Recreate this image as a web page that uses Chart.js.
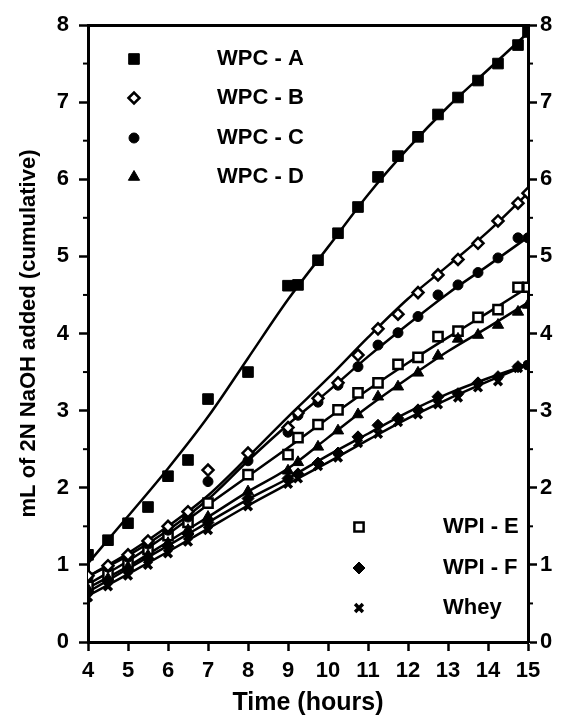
<!DOCTYPE html>
<html lang="en">
<head>
<meta charset="UTF-8">
<title>Cumulative NaOH addition</title>
<script src="https://cdn.jsdelivr.net/npm/chart.js"></script>
<style>
  html, body { margin: 0; padding: 0; background: #fff; }
</style>
</head>
<body>
<canvas id="naohChart" width="562" height="720"></canvas>
<script>
// sampling times (hours)
const hours = [4, 4.5, 5, 5.5, 6, 6.5, 7, 8, 9, 9.25, 9.75, 10.25, 10.75, 11.25, 11.75, 12.25, 12.75, 13.25, 13.75, 14.25, 14.75, 15];

// mL of 2N NaOH added, cumulative
const wpcA = [1.13, 1.32, 1.54, 1.75, 2.15, 2.36, 3.15, 3.50, 4.62, 4.63, 4.95, 5.30, 5.64, 6.03, 6.30, 6.55, 6.84, 7.06, 7.28, 7.50, 7.74, 7.91];
const wpcB = [0.86, 0.99, 1.13, 1.31, 1.50, 1.69, 2.23, 2.45, 2.78, 2.97, 3.16, 3.36, 3.72, 4.06, 4.25, 4.53, 4.76, 4.96, 5.17, 5.46, 5.69, 5.82];
const wpcC = [0.83, 0.97, 1.10, 1.27, 1.45, 1.62, 2.08, 2.35, 2.72, 2.94, 3.11, 3.33, 3.57, 3.85, 4.01, 4.22, 4.50, 4.63, 4.79, 4.98, 5.24, 5.24];
const wpcD = [0.68, 0.82, 0.97, 1.12, 1.28, 1.45, 1.62, 1.95, 2.22, 2.33, 2.53, 2.74, 2.95, 3.18, 3.31, 3.49, 3.71, 3.93, 3.98, 4.11, 4.28, 4.37];
const wpiE = [0.72, 0.88, 1.02, 1.20, 1.38, 1.55, 1.80, 2.17, 2.43, 2.65, 2.82, 3.01, 3.23, 3.36, 3.60, 3.69, 3.96, 4.03, 4.21, 4.31, 4.60, 4.60];
const wpiF = [0.65, 0.80, 0.93, 1.08, 1.24, 1.40, 1.55, 1.86, 2.12, 2.18, 2.32, 2.45, 2.66, 2.81, 2.90, 3.01, 3.18, 3.22, 3.36, 3.44, 3.57, 3.59];
const whey = [0.58, 0.72, 0.86, 1.00, 1.15, 1.30, 1.45, 1.76, 2.05, 2.12, 2.28, 2.39, 2.58, 2.70, 2.85, 2.95, 3.08, 3.17, 3.30, 3.38, 3.55, 3.59];

// fitted curves
const fitHours = [4, 5, 6, 7, 8, 9, 10, 11, 12, 13, 14, 15];
const fitA = [1.02, 1.63, 2.25, 2.92, 3.68, 4.44, 5.12, 5.80, 6.40, 6.94, 7.42, 7.90];
const fitB = [0.85, 1.15, 1.50, 1.90, 2.40, 2.92, 3.42, 3.95, 4.45, 4.88, 5.32, 5.82];
const fitC = [0.85, 1.12, 1.45, 1.85, 2.35, 2.82, 3.25, 3.70, 4.12, 4.52, 4.88, 5.25];
const fitD = [0.70, 0.98, 1.30, 1.62, 1.95, 2.25, 2.65, 3.05, 3.42, 3.77, 4.08, 4.40];
const fitE = [0.75, 1.05, 1.40, 1.78, 2.15, 2.52, 2.90, 3.27, 3.62, 3.95, 4.27, 4.60];
const fitF = [0.65, 0.95, 1.25, 1.55, 1.85, 2.12, 2.42, 2.70, 2.98, 3.22, 3.42, 3.60];
const fitWhey = [0.60, 0.88, 1.17, 1.47, 1.77, 2.05, 2.33, 2.62, 2.90, 3.15, 3.38, 3.60];

const yTicks = [0, 1, 2, 3, 4, 5, 6, 7, 8];

const FONT = '"Liberation Sans", Arial, Helvetica, sans-serif';

const series = [
  { label: 'WPC - A', data: wpcA, fit: fitA, style: 'rect', radius: 7.5, fill: '#000', bw: 1 },
  { label: 'WPC - B', data: wpcB, fit: fitB, style: 'rectRot', radius: 5.5, fill: '#fff', bw: 2.5 },
  { label: 'WPC - C', data: wpcC, fit: fitC, style: 'circle', radius: 5, fill: '#000', bw: 1 },
  { label: 'WPC - D', data: wpcD, fit: fitD, style: 'triangle', radius: 6.5, fill: '#000', bw: 1 },
  { label: 'WPI - E', data: wpiE, fit: fitE, style: 'rect', radius: 6.5, fill: '#fff', bw: 2.5 },
  { label: 'WPI - F', data: wpiF, fit: fitF, style: 'rectRot', radius: 6, fill: '#000', bw: 1 },
  { label: 'Whey', data: whey, fit: fitWhey, style: 'crossRot', radius: 5.5, fill: '#000', bw: 3.5 }
];

const datasets = [];
series.forEach(s => {
  datasets.push({
    type: 'line',
    label: s.label + ' fit',
    data: fitHours.map((h, i) => ({ x: h, y: s.fit[i] })),
    borderColor: '#000',
    borderWidth: 2.5,
    pointRadius: 0,
    cubicInterpolationMode: 'monotone',
    fill: false,
    order: 2
  });
  datasets.push({
    type: 'scatter',
    label: s.label,
    data: hours.map((h, i) => ({ x: h, y: s.data[i] })),
    pointStyle: s.style,
    pointRadius: s.radius,
    pointBackgroundColor: s.fill,
    pointBorderColor: '#000',
    pointBorderWidth: s.bw,
    showLine: false,
    order: 1
  });
});

// two legend blocks inside the plot area, offsets from chartArea top-left
const legendBlocks = [
  { items: [0, 1, 2, 3], markerX: 46, textX: 129, y: [34, 73, 113, 152] },
  { items: [4, 5, 6], markerX: 271, textX: 355, y: [502, 543, 583] }
];

const keyPlugin = {
  id: 'key',
  afterDraw(chart) {
    const ctx = chart.ctx;
    const area = chart.chartArea;
    ctx.save();
    ctx.font = 'bold 22px ' + FONT;
    ctx.textBaseline = 'middle';
    ctx.textAlign = 'left';
    legendBlocks.forEach(b => {
      b.items.forEach((idx, k) => {
        const s = series[idx];
        const y = area.top + b.y[k];
        ctx.fillStyle = s.fill;
        ctx.strokeStyle = '#000';
        ctx.lineWidth = s.bw;
        Chart.helpers.drawPoint(ctx, { pointStyle: s.style, radius: s.radius, borderWidth: s.bw, rotation: 0 }, area.left + b.markerX, y);
        ctx.fillStyle = '#000';
        ctx.fillText(s.label, area.left + b.textX, y);
      });
    });
    ctx.restore();
  }
};

// short half-unit ticks on both value axes
const minorTicks = {
  id: 'minorTicks',
  afterDraw(chart) {
    const ctx = chart.ctx;
    ctx.save();
    ctx.strokeStyle = '#000';
    ctx.lineWidth = 2;
    ['y', 'y2'].forEach(id => {
      const sc = chart.scales[id];
      const x = id === 'y' ? chart.chartArea.left : chart.chartArea.right;
      const dir = id === 'y' ? -1 : 1;
      for (let v = 0.5; v < 8; v += 1) {
        const py = sc.getPixelForValue(v);
        ctx.beginPath();
        ctx.moveTo(x, py);
        ctx.lineTo(x + dir * 5, py);
        ctx.stroke();
      }
    });
    ctx.restore();
  }
};

const tickFont = { family: FONT, size: 22, weight: 'bold' };
const axisGrid = { display: true, drawOnChartArea: false, drawTicks: true, tickLength: 9, tickWidth: 2.5, tickColor: '#000', color: '#000' };

new Chart(document.getElementById('naohChart'), {
  data: { datasets },
  options: {
    responsive: false,
    animation: false,
    devicePixelRatio: 1,
    layout: { padding: 0 },
    plugins: { legend: { display: false }, tooltip: { enabled: false } },
    scales: {
      x: {
        type: 'linear', position: 'bottom', min: 4, max: 15,
        ticks: { stepSize: 1, color: '#000', font: tickFont, padding: 7, maxRotation: 0 },
        grid: axisGrid,
        border: { display: true, color: '#000', width: 3 },
        title: { display: true, text: 'Time (hours)', color: '#000', font: { family: FONT, size: 25, weight: 'bold' }, padding: { top: 0, bottom: 2 } },
        afterFit: s => { s.height = 78; }
      },
      x2: {
        type: 'linear', axis: 'x', position: 'top', min: 4, max: 15,
        ticks: { display: false },
        grid: { display: true, drawOnChartArea: false, drawTicks: false },
        border: { display: true, color: '#000', width: 3 },
        afterFit: s => { s.height = 25; }
      },
      y: {
        type: 'linear', position: 'left', min: 0, max: 8,
        afterBuildTicks: s => { s.ticks = yTicks.map(v => ({ value: v })); },
        ticks: { color: '#000', font: tickFont, padding: 10 },
        grid: axisGrid,
        border: { display: true, color: '#000', width: 3 },
        title: { display: true, text: 'mL of 2N NaOH added (cumulative)', color: '#000', font: { family: FONT, size: 22, weight: 'bold' }, padding: { top: 16, bottom: 0 } },
        afterFit: s => { s.width = 88; }
      },
      y2: {
        type: 'linear', axis: 'y', position: 'right', min: 0, max: 8,
        afterBuildTicks: s => { s.ticks = yTicks.map(v => ({ value: v })); },
        ticks: { color: '#000', font: tickFont, padding: 3 },
        grid: axisGrid,
        border: { display: true, color: '#000', width: 3 },
        afterFit: s => { s.width = 34; }
      }
    }
  },
  plugins: [minorTicks, keyPlugin]
});
</script>
</body>
</html>
